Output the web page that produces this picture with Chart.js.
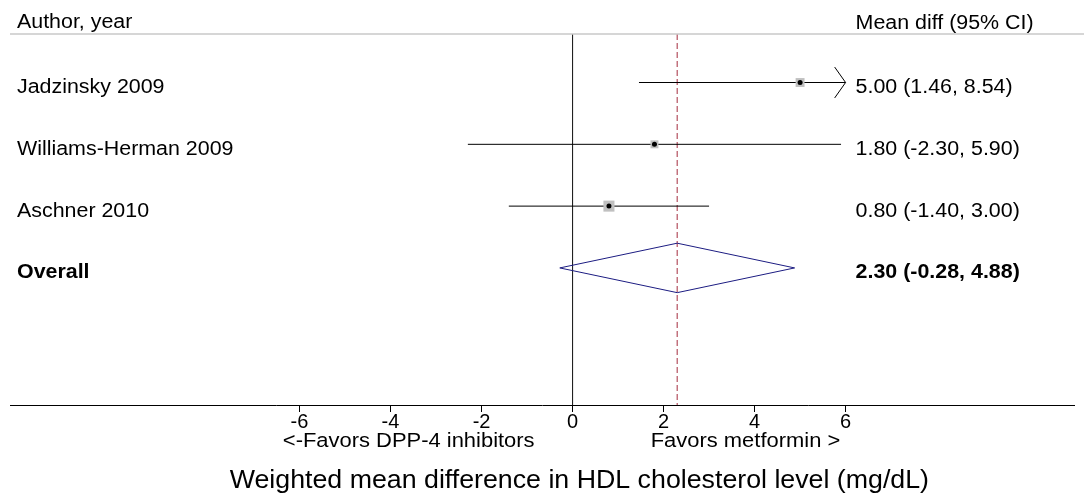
<!DOCTYPE html>
<html>
<head>
<meta charset="utf-8">
<script src="https://cdn.jsdelivr.net/npm/chart.js@4.4.0/dist/chart.umd.min.js"></script>
<style>
  body { margin: 0; background: #fff; }
</style>
</head>
<body>
<canvas id="forest" width="1084" height="497"></canvas>
<script>
// studies
var studies = ["Jadzinsky 2009", "Williams-Herman 2009", "Aschner 2010"];
var estimates = [5.00, 1.80, 0.80];
var lower = [1.46, -2.30, -1.40];
var upper = [8.54, 5.90, 3.00];
var weights = [30, 24, 46]; // guessed from box size
// pooled
var overall = { label: "Overall", est: 2.30, lo: -0.28, hi: 4.88 };
var tickValues = [-6, -4, -2, 0, 2, 4, 6];
var axisLimit = 6; // CIs beyond this get an arrow

var FONT = "'Liberation Sans', Arial, sans-serif";
var SX = 1.07; // reference text is a bit wide
var rows = [1, 2, 3];
var overallRow = 4;
var yMin = 0.215, yMax = 6.218;

function fmt(v) { return v.toFixed(2); }

function wideText(ctx, txt, x, y, align) {
  ctx.save();
  ctx.translate(x, y);
  ctx.scale(SX, 1);
  ctx.textAlign = align || 'left';
  ctx.fillText(txt, 0, 0);
  ctx.restore();
}

var ciSets = [];
for (var i = 0; i < studies.length; i++) {
  ciSets.push({
    type: 'line',
    data: [{x: Math.max(lower[i], -axisLimit), y: rows[i]}, {x: Math.min(upper[i], axisLimit), y: rows[i]}],
    borderColor: '#000', borderWidth: 1, pointRadius: 0, order: 5
  });
  if (upper[i] > axisLimit) {
    ciSets.push({
      type: 'line',
      data: [{x: axisLimit - 0.24, y: rows[i] - 0.25}, {x: axisLimit, y: rows[i]}, {x: axisLimit - 0.24, y: rows[i] + 0.25}],
      borderColor: '#000', borderWidth: 1, pointRadius: 0, order: 5
    });
  }
}

var boxes = {
  type: 'scatter',
  data: estimates.map(function(e, i) { return {x: e, y: rows[i]}; }),
  pointStyle: 'rect',
  pointRadius: weights.map(function(w) { return 7.8 * Math.sqrt(w / 46); }),
  backgroundColor: '#c0c0c0', borderWidth: 0, order: 3
};
var dots = {
  type: 'scatter',
  data: estimates.map(function(e, i) { return {x: e, y: rows[i]}; }),
  pointRadius: 2.5, backgroundColor: '#000', borderWidth: 0, order: 1
};
var diamond = {
  type: 'line',
  data: [
    {x: overall.lo, y: overallRow}, {x: overall.est, y: overallRow - 0.4},
    {x: overall.hi, y: overallRow}, {x: overall.est, y: overallRow + 0.4},
    {x: overall.lo, y: overallRow}
  ],
  borderColor: '#1c1c82', borderWidth: 1, pointRadius: 0, tension: 0, order: 2
};
var zeroLine = {
  type: 'line',
  data: [{x: 0, y: yMin}, {x: 0, y: yMax}],
  borderColor: '#222', borderWidth: 1, pointRadius: 0, order: 6
};
var pooledLine = {
  type: 'line',
  data: [{x: overall.est, y: yMin}, {x: overall.est, y: yMax}],
  borderColor: '#b4505e', borderWidth: 1.2, borderDash: [6, 3], pointRadius: 0, order: 6
};

var textPlugin = {
  id: 'forestText',
  afterDraw: function(chart) {
    var ctx = chart.ctx;
    var xs = chart.scales.x, ys = chart.scales.y;
    var area = chart.chartArea;
    ctx.save();
    // header rule
    ctx.strokeStyle = '#c8c8c8';
    ctx.lineWidth = 1.5;
    ctx.beginPath();
    ctx.moveTo(area.left, area.top);
    ctx.lineTo(chart.width, area.top);
    ctx.stroke();

    ctx.fillStyle = '#000';
    ctx.textBaseline = 'middle';
    ctx.font = '20px ' + FONT;
    wideText(ctx, 'Author, year', 17, area.top - 12);
    var rx = xs.getPixelForValue(axisLimit) + 10;
    wideText(ctx, 'Mean diff (95% CI)', rx, area.top - 11);

    for (var i = 0; i < studies.length; i++) {
      var y = ys.getPixelForValue(rows[i]) + 5;
      wideText(ctx, studies[i], 17, y);
      wideText(ctx, fmt(estimates[i]) + ' (' + fmt(lower[i]) + ', ' + fmt(upper[i]) + ')', rx, y);
    }
    var oy = ys.getPixelForValue(overallRow) + 5;
    ctx.font = 'bold 20px ' + FONT;
    wideText(ctx, overall.label, 17, oy);
    wideText(ctx, fmt(overall.est) + ' (' + fmt(overall.lo) + ', ' + fmt(overall.hi) + ')', rx, oy);

    // favours labels + axis title
    ctx.font = '20.5px ' + FONT;
    wideText(ctx, '<-Favors DPP-4 inhibitors', xs.getPixelForValue(-3.6), area.bottom + 36, 'center');
    wideText(ctx, 'Favors metformin >', xs.getPixelForValue(3.8), area.bottom + 36, 'center');
    ctx.font = '25px ' + FONT;
    wideText(ctx, 'Weighted mean difference in HDL cholesterol level (mg/dL)', xs.getPixelForValue(0.15), area.bottom + 76, 'center');
    ctx.restore();
  }
};

new Chart(document.getElementById('forest'), {
  type: 'scatter',
  data: {
    datasets: [dots, diamond, boxes].concat(ciSets, [zeroLine, pooledLine])
  },
  options: {
    responsive: false,
    animation: false,
    events: [],
    layout: { padding: { left: 10, right: 10, top: 34, bottom: 0 } },
    plugins: { legend: { display: false }, tooltip: { enabled: false } },
    scales: {
      x: {
        type: 'linear',
        min: -12.361, max: 11.019,
        afterBuildTicks: function(scale) {
          scale.ticks = tickValues.map(function(v) { return {value: v}; });
        },
        afterFit: function(scale) { scale.height = 92; },
        grid: { drawOnChartArea: false, drawTicks: true, tickLength: 7, color: '#000' },
        border: { display: true, color: '#000', width: 1 },
        ticks: { color: '#000', font: { family: FONT, size: 20 }, padding: -2, maxRotation: 0, autoSkip: false }
      },
      y: {
        type: 'linear', reverse: true, min: yMin, max: yMax,
        display: false
      }
    }
  },
  plugins: [textPlugin]
});
</script>
</body>
</html>
